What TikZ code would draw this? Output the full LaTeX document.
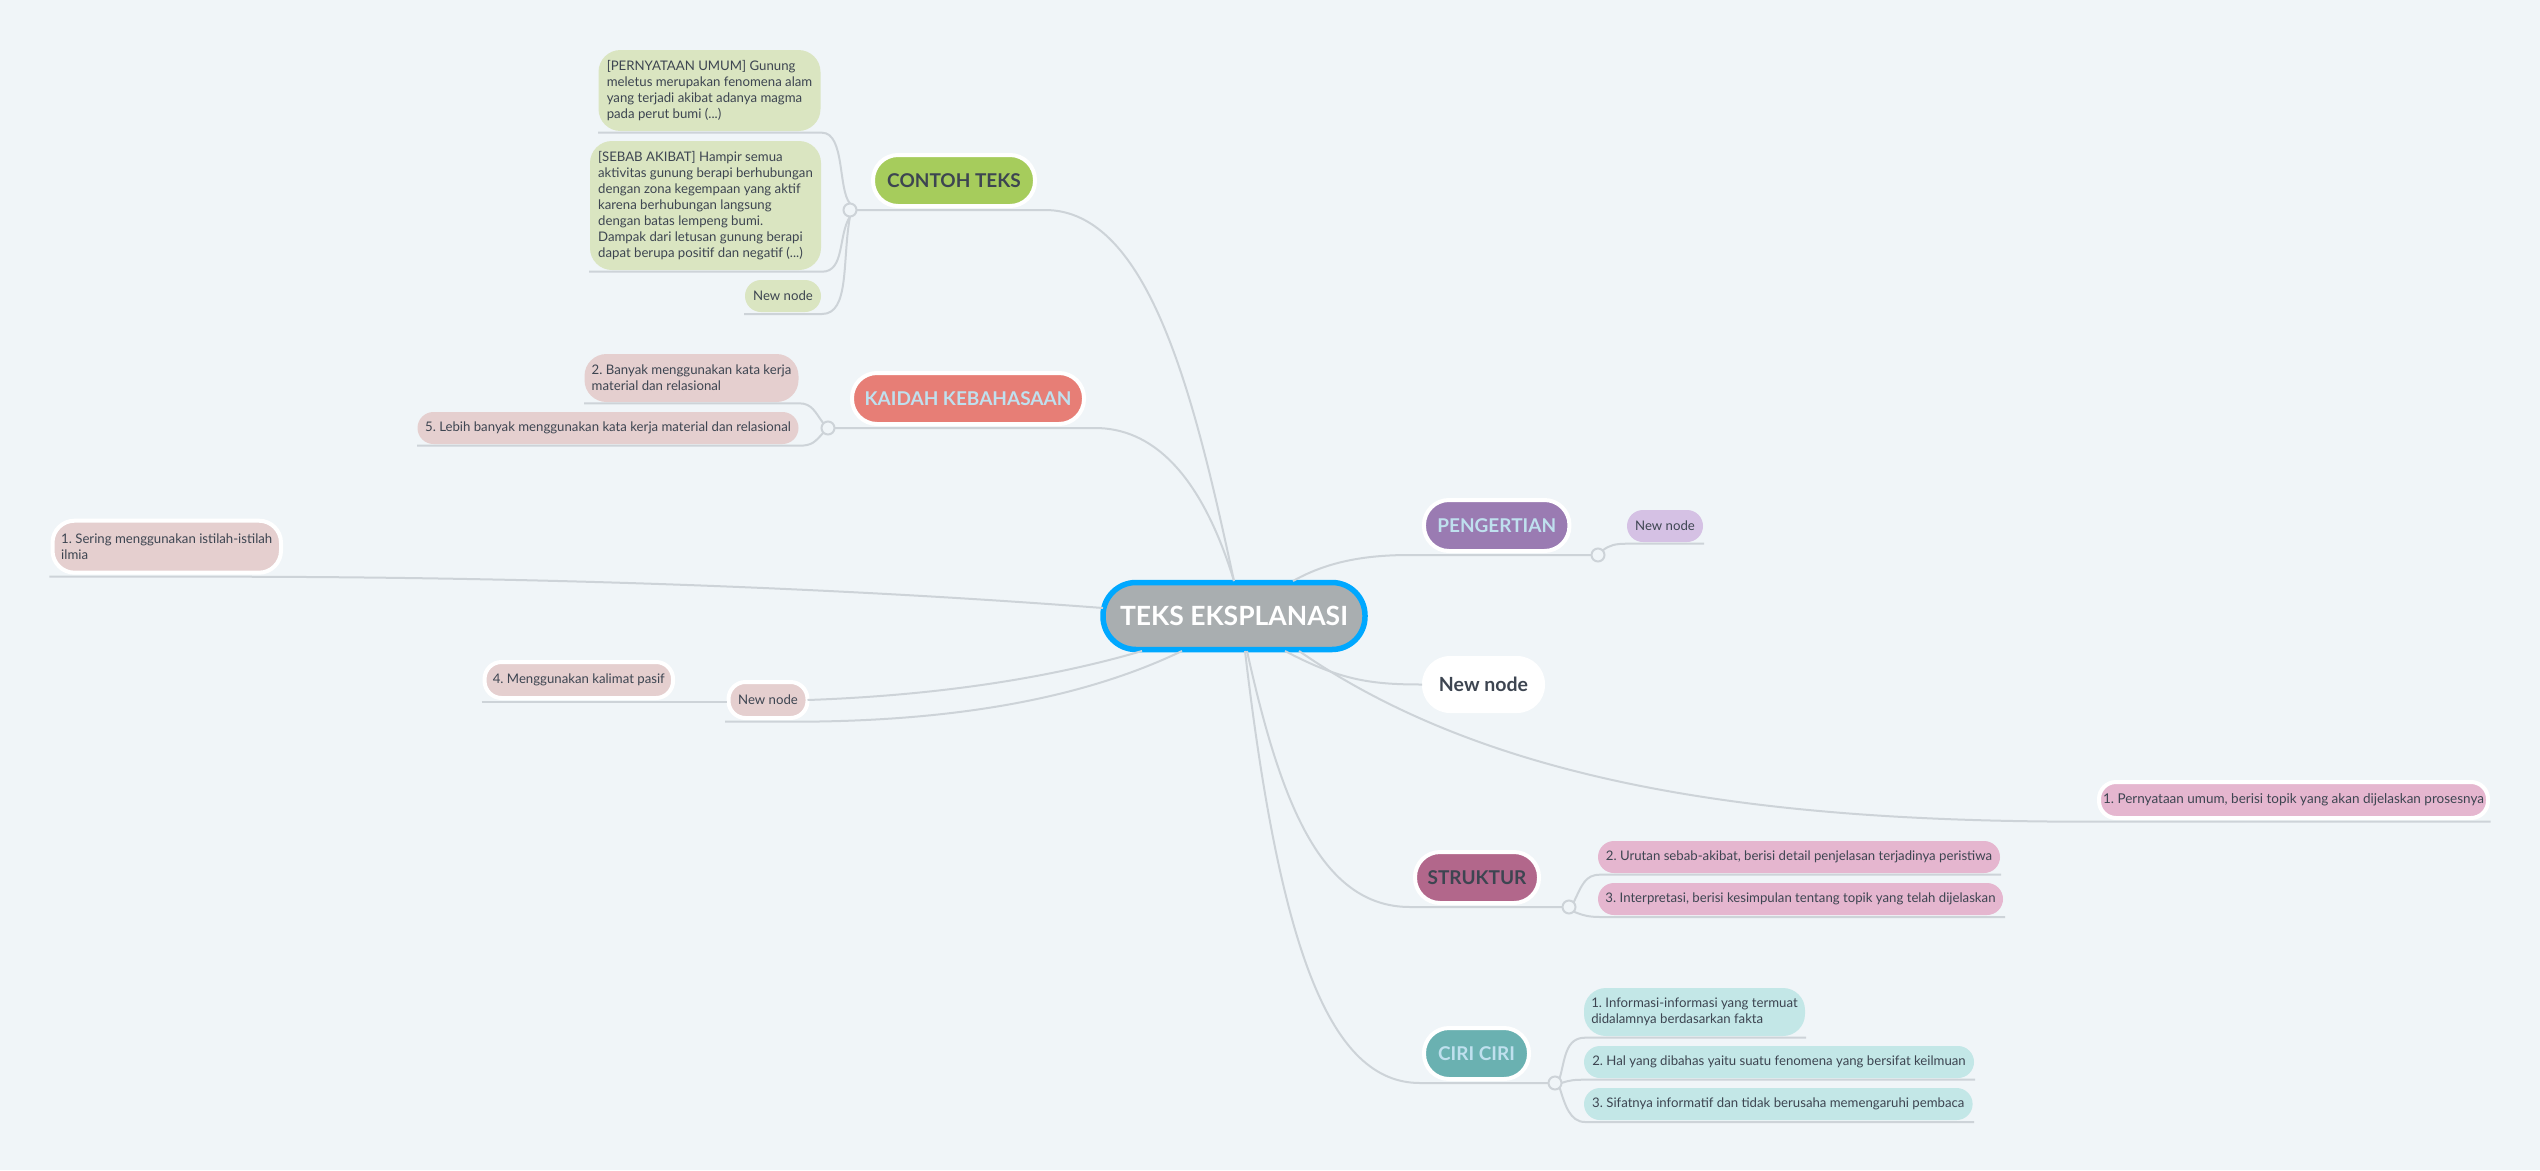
\documentclass[tikz,border=0pt]{standalone}
\usepackage{fontspec}
\usepackage{tikz}
\setmainfont{Lato}
\frenchspacing
\definecolor{fondo}{HTML}{F0F5F8}
\definecolor{linea}{HTML}{CDD3D8}
\definecolor{tinta}{HTML}{3D4551}
\definecolor{claro}{HTML}{BFE0EE}
\tikzset{
  pill/.style={inner sep=0pt, outer sep=0pt, text=tinta, align=left, font=\fontsize{13.2}{16}\selectfont},
  rama/.style={inner sep=0pt, outer sep=0pt, draw=white, line width=4pt, rounded corners=25pt, font=\fontsize{19}{24}\selectfont\bfseries},
  hub/.style={circle, draw=linea, line width=2pt, fill=fondo, inner sep=0pt, outer sep=0pt, minimum size=13pt},
  cable/.style={draw=linea, line width=2pt}
}
\begin{document}
\begin{tikzpicture}[x=1pt, y=-1pt]
              \useasboundingbox (0,0) rectangle (2540,1170);
              \fill[fondo] (0,0) rectangle (2540,1170);

              % Nodos
              \node[inner sep=0pt, outer sep=0pt, draw={rgb,255:red,0;green,168;blue,255}, line width=5.5pt, fill={rgb,255:red,169;green,174;blue,176}, rounded corners=33pt, minimum width=262pt, minimum height=67pt, text=white, font=\fontsize{26.5}{34}\selectfont\bfseries] (teks) at (1234,616) {TEKS EKSPLANASI};

              \node[rama, fill={rgb,255:red,166;green,204;blue,92}, text=tinta, minimum width=162pt, minimum height=51pt] (contoh) at (954,180.5) {CONTOH TEKS};
              \node[hub] (hubcontoh) at (850,210) {};
              \node[pill, fill={rgb,255:red,218;green,229;blue,193}, rounded corners=22pt, minimum width=222pt, minimum height=81pt] (umum) at (709.5,90.5) {[PERNYATAAN UMUM] Gunung\\meletus merupakan fenomena alam\\yang terjadi akibat adanya magma\\pada perut bumi (...)};
              \node[pill, fill={rgb,255:red,218;green,229;blue,193}, rounded corners=22pt, minimum width=231pt, minimum height=129pt] (sebab) at (705.5,205.5) {[SEBAB AKIBAT] Hampir semua\\aktivitas gunung berapi berhubungan\\dengan zona kegempaan yang aktif\\karena berhubungan langsung\\dengan batas lempeng bumi.\\Dampak dari letusan gunung berapi\\dapat berupa positif dan negatif (...)};
              \node[pill, fill={rgb,255:red,218;green,229;blue,193}, rounded corners=16pt, minimum width=76pt, minimum height=32pt] (newcontoh) at (783,296) {New node};

              \node[rama, fill={rgb,255:red,231;green,126;blue,118}, text=claro, minimum width=232pt, minimum height=51pt] (kaidah) at (968,398.5) {KAIDAH KEBAHASAAN};
              \node[hub] (hubkaidah) at (828,428) {};
              \node[pill, fill={rgb,255:red,229;green,207;blue,207}, rounded corners=22pt, minimum width=214pt, minimum height=48pt] (kata) at (691.5,378) {2. Banyak menggunakan kata kerja\\material dan relasional};
              \node[pill, fill={rgb,255:red,229;green,207;blue,207}, rounded corners=16pt, minimum width=381pt, minimum height=32pt] (lebih) at (608,428) {5. Lebih banyak menggunakan kata kerja material dan relasional};

              \node[pill, draw=white, line width=4pt, fill={rgb,255:red,229;green,207;blue,207}, rounded corners=22pt, minimum width=228.5pt, minimum height=52pt] (sering) at (166.75,546.7) {1. Sering menggunakan istilah-istilah\\ilmia};
              \node[pill, draw=white, line width=4pt, fill={rgb,255:red,229;green,207;blue,207}, rounded corners=17pt, minimum width=188.5pt, minimum height=36pt] (pasif) at (578.8,680) {4. Menggunakan kalimat pasif};
              \node[pill, draw=white, line width=4pt, fill={rgb,255:red,229;green,207;blue,207}, rounded corners=17pt, minimum width=79pt, minimum height=36pt] (newkiri) at (768,700) {New node};

              \node[rama, fill={rgb,255:red,154;green,123;blue,178}, text=claro, minimum width=145.5pt, minimum height=51pt] (pengertian) at (1496.7,525.5) {PENGERTIAN};
              \node[hub] (hubpengertian) at (1598,555) {};
              \node[pill, fill={rgb,255:red,213;green,193;blue,228}, rounded corners=16pt, minimum width=76pt, minimum height=32pt] (newungu) at (1665,526) {New node};

              \node[inner sep=0pt, outer sep=0pt, fill=white, text=tinta, rounded corners=28pt, minimum width=123pt, minimum height=57pt, font=\fontsize{19.5}{24}\selectfont\bfseries] (newputih) at (1483.5,684.5) {New node};

              \node[pill, draw=white, line width=4pt, fill={rgb,255:red,229;green,182;blue,207}, rounded corners=17pt, minimum width=389pt, minimum height=36pt, font=\fontsize{13.5}{16}\selectfont] (pernyataan) at (2293.5,800) {1. Pernyataan umum, berisi topik yang akan dijelaskan prosesnya};

              \node[rama, fill={rgb,255:red,178;green,103;blue,139}, text=tinta, minimum width=124pt, minimum height=51pt] (struktur) at (1477,877.5) {STRUKTUR};
              \node[hub] (hubstruktur) at (1569,907) {};
              \node[pill, fill={rgb,255:red,229;green,182;blue,207}, rounded corners=16pt, minimum width=402pt, minimum height=32pt] (urutan) at (1799,857) {2. Urutan sebab-akibat, berisi detail penjelasan terjadinya peristiwa};
              \node[pill, fill={rgb,255:red,229;green,182;blue,207}, rounded corners=16pt, minimum width=405pt, minimum height=32pt] (interpretasi) at (1800.5,899) {3. Interpretasi, berisi kesimpulan tentang topik yang telah dijelaskan};

              \node[rama, fill={rgb,255:red,106;green,177;blue,177}, text=claro, minimum width=105pt, minimum height=51pt] (ciri) at (1476.5,1053.5) {CIRI CIRI};
              \node[hub] (hubciri) at (1555,1083) {};
              \node[pill, fill={rgb,255:red,195;green,231;blue,231}, rounded corners=22pt, minimum width=221pt, minimum height=48pt] (informasi) at (1694.5,1012) {1. Informasi-informasi yang termuat\\didalamnya berdasarkan fakta};
              \node[pill, fill={rgb,255:red,195;green,231;blue,231}, rounded corners=16pt, minimum width=390pt, minimum height=32pt] (hal) at (1779,1062) {2. Hal yang dibahas yaitu suatu fenomena yang bersifat keilmuan};
              \node[pill, fill={rgb,255:red,195;green,231;blue,231}, rounded corners=16pt, minimum width=388.6pt, minimum height=32pt] (sifat) at (1778.3,1104) {3. Sifatnya informatif dan tidak berusaha memengaruhi pembaca};

              % Puntos libres
              \coordinate (ua) at (598,132.7);
              \coordinate (ub) at (589,271.7);
              \coordinate (uc) at (744,314);
              \coordinate (ud) at (584,403.3);
              \coordinate (ue) at (417,445.7);
              \coordinate (uf) at (49.4,576.7);
              \coordinate (ug) at (481.5,701.7);
              \coordinate (ugr) at (727,701.7);
              \coordinate (uh) at (725,721.7);
              \coordinate (ui) at (1704,543.7);
              \coordinate (uj) at (2490.7,821.7);
              \coordinate (uk) at (2001,874.7);
              \coordinate (ul) at (2005,917);
              \coordinate (um) at (1806,1037.7);
              \coordinate (un) at (1975,1079.7);
              \coordinate (uo) at (1974,1122);
              \coordinate (tn) at (1234,581);
              \coordinate (tpeng) at (1293,581);
              \coordinate (tputih) at (1285,651);
              \coordinate (tper) at (1299,651);
              \coordinate (tstr) at (1247,651);
              \coordinate (tcir) at (1245,651);
              \coordinate (tser) at (1103,608);
              \coordinate (tkia) at (1142,651);
              \coordinate (tkib) at (1182,651);

              % Aristas
              \draw[cable] (ua) -- (822,132.7) .. controls (845,132.7) and (838,190) .. (hubcontoh.north);
              \draw[cable] (ub) -- (822,271.7) .. controls (845,271.7) and (838,235) .. (hubcontoh.south);
              \draw[cable] (uc) -- (822,314) .. controls (850,314) and (842,260) .. (hubcontoh.south);
              \draw[cable] (hubcontoh.east) -- (1045,210) .. controls (1150,210) and (1195,400) .. (tn);
              \draw[cable] (ud) -- (799,403.3) .. controls (812,403.3) and (815,412) .. (hubkaidah.north west);
              \draw[cable] (ue) -- (799,445.7) .. controls (812,445.7) and (815,442) .. (hubkaidah.south west);
              \draw[cable] (hubkaidah.east) -- (1095,428) .. controls (1150,428) and (1200,470) .. (tn);
              \draw[cable] (uf) -- (230,576.7) .. controls (500,577) and (800,585) .. (tser);
              \draw[cable] (ug) -- (ugr);
              \draw[cable] (newkiri.east) .. controls (950,695) and (1060,675) .. (tkia);
              \draw[cable] (uh) -- (800,721.7) .. controls (950,721) and (1080,700) .. (tkib);
              \draw[cable] (tpeng) .. controls (1330,560) and (1370,555) .. (1410,555) -- (hubpengertian.west);
              \draw[cable] (hubpengertian.north east) .. controls (1610,545) and (1615,543.7) .. (1628,543.7) -- (ui);
              \draw[cable] (tputih) .. controls (1340,680) and (1370,684.5) .. (newputih.west);
              \draw[cable] (tper) .. controls (1500,790) and (1780,821.7) .. (2090,821.7) -- (uj);
              \draw[cable] (tstr) .. controls (1280,800) and (1320,907) .. (1410,907) -- (hubstruktur.west);
              \draw[cable] (hubstruktur.north east) .. controls (1582,885) and (1585,874.7) .. (1600,874.7) -- (uk);
              \draw[cable] (hubstruktur.south east) .. controls (1582,915) and (1588,917) .. (1600,917) -- (ul);
              \draw[cable] (tcir) .. controls (1280,950) and (1330,1083) .. (1420,1083) -- (hubciri.west);
              \draw[cable] (hubciri.north east) .. controls (1565,1060) and (1565,1037.7) .. (1585,1037.7) -- (um);
              \draw[cable] (hubciri.east) .. controls (1570,1080) and (1575,1079.7) .. (1585,1079.7) -- (un);
              \draw[cable] (hubciri.south east) .. controls (1565,1105) and (1570,1122) .. (1585,1122) -- (uo);
            \end{tikzpicture}
\end{document}
